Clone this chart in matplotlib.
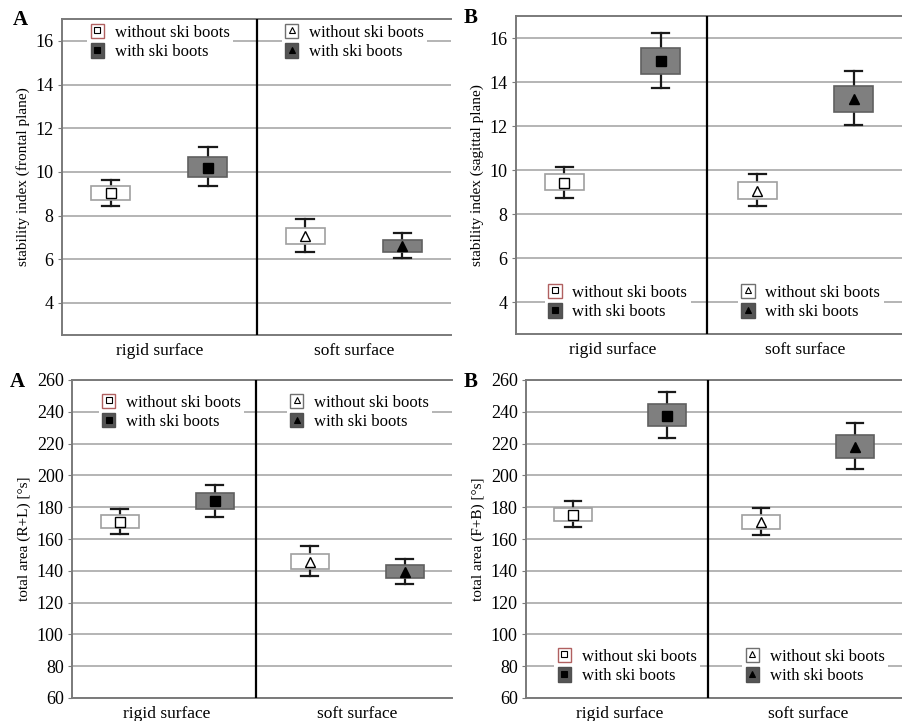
import matplotlib.pyplot as plt
from matplotlib.patches import Rectangle
from matplotlib.lines import Line2D

plt.rcParams['font.family'] = ['Liberation Serif', 'DejaVu Serif']

groups = ['rigid surface', 'soft surface']
conditions = ['without ski boots', 'with ski boots']

# per panel: order = rigid without, rigid with, soft without, soft with
# mean, box low, box high, whisker low, whisker high
front_mean = [9.03, 10.17, 7.07, 6.6]
front_box_lo = [8.71, 9.78, 6.7, 6.33]
front_box_hi = [9.35, 10.68, 7.44, 6.9]
front_wh_lo = [8.43, 9.35, 6.33, 6.05]
front_wh_hi = [9.62, 11.12, 7.83, 7.2]

sag_mean = [9.43, 14.94, 9.06, 13.22]
sag_box_lo = [9.08, 14.38, 8.70, 12.66]
sag_box_hi = [9.8, 15.55, 9.46, 13.84]
sag_wh_lo = [8.73, 13.75, 8.37, 12.03]
sag_wh_hi = [10.14, 16.21, 9.8, 14.5]

rl_mean = [170.6, 183.8, 145.8, 139.1]
rl_box_lo = [167.0, 179.0, 141.4, 135.3]
rl_box_hi = [175.2, 188.9, 150.4, 143.7]
rl_wh_lo = [163.0, 174.0, 136.6, 131.4]
rl_wh_hi = [179.0, 194.1, 155.7, 147.7]

fb_mean = [175.4, 237.6, 170.6, 218.1]
fb_box_lo = [171.4, 231.3, 166.6, 211.2]
fb_box_hi = [179.8, 245.1, 175.0, 225.2]
fb_wh_lo = [167.4, 223.8, 162.6, 204.0]
fb_wh_hi = [183.8, 252.3, 179.4, 233.0]

positions = [0.5, 1.5, 2.5, 3.5]
markers = ['s', 's', '^', '^']
marker_face = ['white', 'black', 'white', 'black']
box_face = ['white', '#7f7f7f', 'white', '#7f7f7f']
box_edge = ['#a0a0a0', '#606060', '#a0a0a0', '#606060']

grid_c = '#b4b4b4'
spine_c = '#7a7a7a'


def draw_panel(rect, mean, blo, bhi, wlo, whi, ylim, yticks, ylabel, letter,
               leg_x, leg_y, divider, letter_xy):
    ax = fig.add_axes(rect)
    ax.set_xlim(0, 4)
    ax.set_ylim(*ylim)
    ax.set_yticks(yticks)
    ax.yaxis.grid(True, color=grid_c, lw=1.4)
    ax.set_axisbelow(True)
    ax.set_xticks([1, 3])
    ax.set_xticklabels(groups, fontsize=12.5)
    ax.tick_params(axis='x', length=0, pad=6)
    ax.tick_params(axis='y', labelsize=13, length=3, color=spine_c, pad=3)
    for s in ['left', 'bottom', 'top']:
        ax.spines[s].set_color(spine_c)
        ax.spines[s].set_linewidth(1.4)
    ax.spines['right'].set_visible(False)
    ax.set_ylabel(ylabel, fontsize=11)
    ax.axvline(divider, color='black', lw=1.6, zorder=4)

    bw = 0.4
    cw = 0.18
    for i, x in enumerate(positions):
        ax.plot([x, x], [wlo[i], whi[i]], color='#1a1a1a', lw=1.6, zorder=2)
        ax.plot([x - cw / 2, x + cw / 2], [wlo[i], wlo[i]], color='#1a1a1a', lw=1.6, zorder=2)
        ax.plot([x - cw / 2, x + cw / 2], [whi[i], whi[i]], color='#1a1a1a', lw=1.6, zorder=2)
        ax.add_patch(Rectangle((x - bw / 2, blo[i]), bw, bhi[i] - blo[i],
                               facecolor=box_face[i], edgecolor=box_edge[i],
                               lw=1.2, zorder=3))
        ax.plot(x, mean[i], marker=markers[i], ms=7.5,
                mfc=marker_face[i], mec='black', mew=1.0, zorder=5)

    # legends, one per half, centred on a grid line
    for h, lx in enumerate(leg_x):
        handles = []
        for k in range(2):
            i = 2 * h + k
            edge = '#b06060' if (i == 0) else ('#505050' if k == 1 else '#707070')
            face = 'white' if k == 0 else '#555555'
            p = Rectangle((0, 0), 1, 1, facecolor=face, edgecolor=edge, lw=1.0)
            m = Line2D([], [], ls='none', marker=markers[i], ms=5,
                       mfc=marker_face[i], mec='black', mew=0.8)
            handles.append((p, m))
        leg = ax.legend(handles, conditions, loc='center left',
                        bbox_to_anchor=(lx, leg_y),
                        bbox_transform=ax.get_yaxis_transform(), fontsize=12,
                        handlelength=0.8, handleheight=0.95, handletextpad=0.65,
                        labelspacing=0.15, borderpad=0.2, borderaxespad=0,
                        frameon=True, fancybox=False, framealpha=1,
                        facecolor='white', edgecolor='none')
        leg.set_zorder(6)
        ax.add_artist(leg)
    fig.text(letter_xy[0], letter_xy[1], letter, fontsize=15, fontweight='bold',
             ha='center', va='center')
    return ax


fig = plt.figure(figsize=(9.02, 7.21), dpi=100)

draw_panel([62 / 902, 386 / 721, 389 / 902, 316 / 721],
           front_mean, front_box_lo, front_box_hi, front_wh_lo, front_wh_hi,
           (2.53, 17.0), [4, 6, 8, 10, 12, 14, 16],
           'stability index (frontal plane)', 'A',
           [0.065, 0.565], 15.95, 2.0, (20 / 902, 1 - 20 / 721))

draw_panel([516 / 902, 387 / 721, 386 / 902, 318 / 721],
           sag_mean, sag_box_lo, sag_box_hi, sag_wh_lo, sag_wh_hi,
           (2.55, 17.0), [4, 6, 8, 10, 12, 14, 16],
           'stability index (sagittal plane)', 'B',
           [0.075, 0.575], 4.0, 1.975, (471 / 902, 1 - 18 / 721))

draw_panel([72 / 902, 23 / 721, 380 / 902, 318 / 721],
           rl_mean, rl_box_lo, rl_box_hi, rl_wh_lo, rl_wh_hi,
           (60, 260), list(range(60, 261, 20)),
           'total area (R+L) [°s]', 'A',
           [0.07, 0.565], 240, 1.94, (17 / 902, 1 - 382 / 721))

draw_panel([526 / 902, 23 / 721, 376 / 902, 318 / 721],
           fb_mean, fb_box_lo, fb_box_hi, fb_wh_lo, fb_wh_hi,
           (60, 260), list(range(60, 261, 20)),
           'total area (F+B) [°s]', 'B',
           [0.075, 0.575], 80, 1.94, (471 / 902, 1 - 382 / 721))

fig.savefig('out.png', dpi=100)
